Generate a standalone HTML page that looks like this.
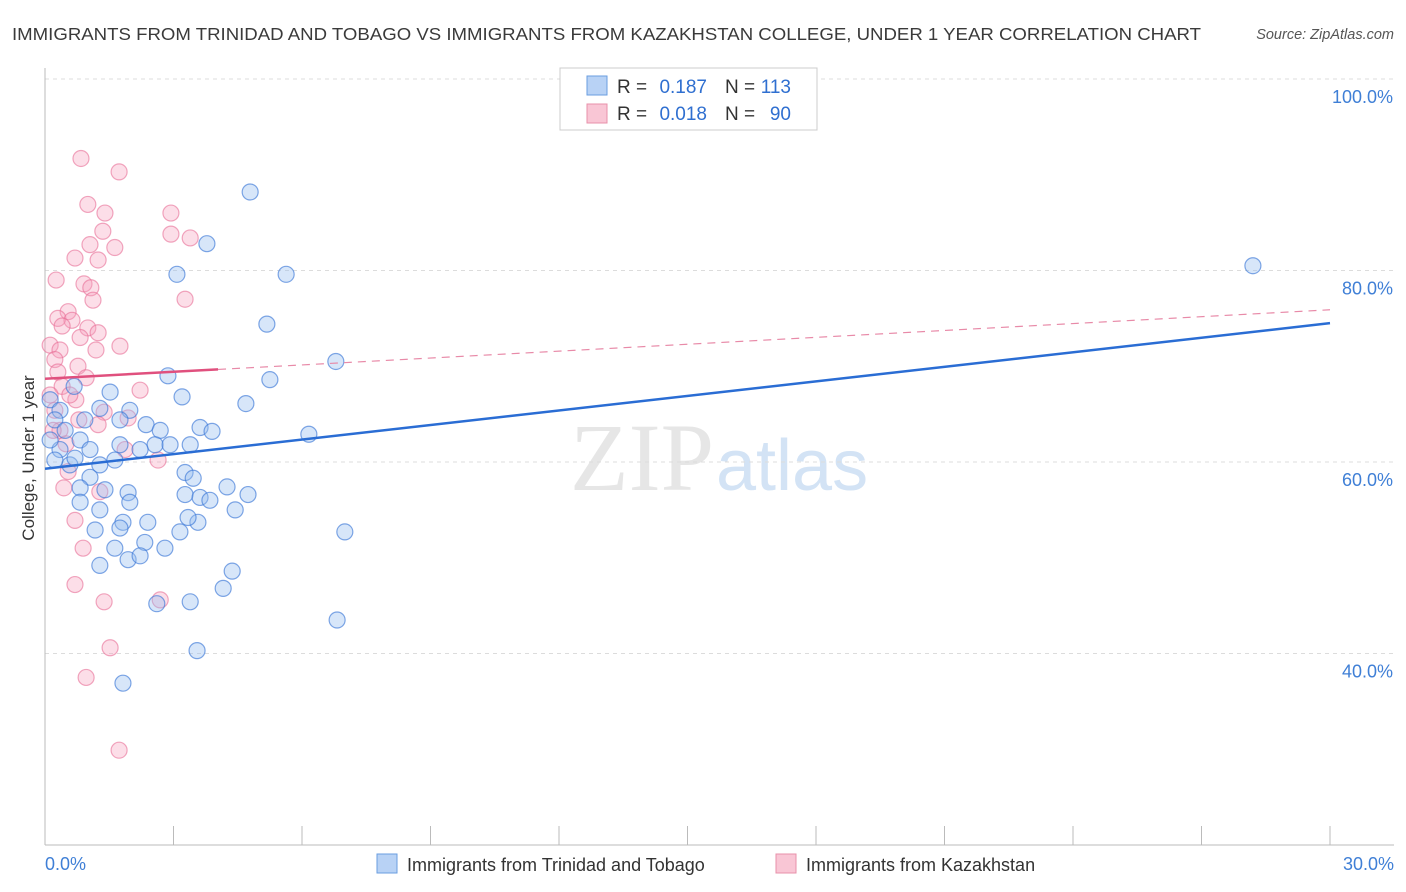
<!DOCTYPE html>
<html><head><meta charset="utf-8">
<style>
body{margin:0;background:#fff;font-family:"Liberation Sans",sans-serif;}
#wrap{position:relative;width:1406px;height:892px;overflow:hidden;}
</style></head>
<body>
<div id="wrap">
<svg id="svg" width="1406" height="892" xmlns="http://www.w3.org/2000/svg">
<text x="12" y="40" font-size="17.5" fill="#3a3a3a" textLength="1189" lengthAdjust="spacingAndGlyphs">IMMIGRANTS FROM TRINIDAD AND TOBAGO VS IMMIGRANTS FROM KAZAKHSTAN COLLEGE, UNDER 1 YEAR CORRELATION CHART</text>
<text x="1394" y="39" font-size="14.5" fill="#555" font-style="italic" text-anchor="end">Source: ZipAtlas.com</text>
<text x="714" y="490" font-size="96" fill="#e6e6e6" text-anchor="end" font-family="Liberation Serif, serif">ZIP</text>
<text x="716" y="490" font-size="72" fill="#d3e3f5">atlas</text>
<g id="grid"></g>
<g id="pts"></g>
<g id="trend"></g>
<text transform="translate(34,458) rotate(-90)" font-size="17" fill="#333" text-anchor="middle">College, Under 1 year</text>
<g>
<rect x="560" y="68" width="257" height="62" fill="#fff" stroke="#ccc"/>
<rect x="587" y="76" width="20" height="19" fill="#b8d2f5" stroke="#6a9ee0"/>
<rect x="587" y="104" width="20" height="19" fill="#f9c6d5" stroke="#e890aa"/>
<text x="617" y="93" font-size="19" fill="#333">R =</text>
<text x="707" y="93" font-size="19" fill="#2f6fd0" text-anchor="end">0.187</text>
<text x="725" y="93" font-size="19" fill="#333">N =</text>
<text x="791" y="93" font-size="19" fill="#2f6fd0" text-anchor="end">113</text>
<text x="617" y="120" font-size="19" fill="#333">R =</text>
<text x="707" y="120" font-size="19" fill="#2f6fd0" text-anchor="end">0.018</text>
<text x="725" y="120" font-size="19" fill="#333">N =</text>
<text x="791" y="120" font-size="19" fill="#2f6fd0" text-anchor="end">90</text>
</g>
<g>
<rect x="377" y="854" width="20" height="19" fill="#b8d2f5" stroke="#6a9ee0"/>
<text x="407" y="871" font-size="18" fill="#333">Immigrants from Trinidad and Tobago</text>
<rect x="776" y="854" width="20" height="19" fill="#f9c6d5" stroke="#e890aa"/>
<text x="806" y="871" font-size="18" fill="#333">Immigrants from Kazakhstan</text>
</g>
</svg>
</div>
<script>
const blueX=[4.79,3.78,3.08,5.63,28.2,5.18,6.79,5.25,2.87,3.20,4.69,1.52,0.68,0.12,0.35,1.28,1.98,1.75,2.36,2.69,3.62,3.90,6.16,2.57,2.92,3.39,0.82,1.05,0.35,0.58,1.28,1.63,3.27,3.46,1.05,0.82,4.25,4.74,1.94,3.27,3.62,3.85,1.40,0.82,1.98,1.28,4.44,2.40,1.82,3.57,3.34,1.17,1.75,3.15,7.00,1.63,2.33,2.80,1.94,2.22,1.28,4.37,4.16,2.61,3.39,6.82,3.55,1.82,0.23,0.12,0.47,0.93,1.75,2.22,0.70,0.23];
const blueY=[88.2,82.8,79.6,79.6,80.5,74.4,70.5,68.6,69.0,66.8,66.1,67.3,67.9,66.5,65.4,65.6,65.4,64.4,63.9,63.3,63.6,63.2,62.9,61.8,61.8,61.8,62.3,61.3,61.3,59.7,59.7,60.2,58.9,58.3,58.4,57.3,57.4,56.6,56.8,56.6,56.3,56.0,57.1,55.8,55.8,55.0,55.0,53.7,53.7,53.7,54.2,52.9,53.1,52.7,52.7,51.0,51.6,51.0,49.8,50.2,49.2,48.6,46.8,45.2,45.4,43.5,40.3,36.9,64.4,62.3,63.3,64.4,61.8,61.3,60.4,60.2];
const pinkX=[0.84,1.73,1.00,1.40,2.94,1.35,2.94,3.39,1.05,1.63,0.70,1.24,0.26,0.91,1.07,1.12,3.27,0.54,0.30,0.63,0.40,1.00,1.24,0.82,1.75,0.12,0.35,1.19,0.23,0.77,0.30,0.96,2.22,0.40,0.72,0.23,1.38,0.79,0.35,1.94,1.24,1.87,2.64,0.54,1.28,0.44,0.70,0.89,0.70,1.38,2.69,1.52,0.96,1.73,0.12,0.58,0.19,0.49];
const pinkY=[91.7,90.3,86.9,86.0,86.0,84.1,83.8,83.4,82.7,82.4,81.3,81.1,79.0,78.6,78.2,76.9,77.0,75.7,75.0,74.8,74.2,74.0,73.5,73.0,72.1,72.2,71.7,71.7,70.7,70.0,69.4,68.8,67.5,67.9,66.5,65.4,65.2,64.4,63.3,64.6,63.9,61.3,60.2,59.0,56.9,57.3,53.9,51.0,47.2,45.4,45.6,40.6,37.5,29.9,67.0,67.0,63.3,61.9];
const blueTrend=[59.3,74.5];
const pinkTrend=[68.7,75.9];
const pinkSolidEnd=4.04;
const yTicks=[100,80,60,40];
const xTicks=[0,3,6,9,12,15,18,21,24,27,30];
const sx=v=>45+v*(1285/30);
const sy=v=>79+(100-v)*9.575;
const NS="http://www.w3.org/2000/svg";
function mk(tag,attrs,parent){const e=document.createElementNS(NS,tag);for(const k in attrs)e.setAttribute(k,attrs[k]);parent.appendChild(e);return e;}
const grid=document.getElementById('grid');
yTicks.forEach(t=>{
  const l=mk('line',{x1:45,x2:1394,y1:sy(t),y2:sy(t),stroke:'#dcdcdc','stroke-dasharray':'4,4'},grid);
  
  
  const tx=mk('text',{x:1393,y:sy(t)+24,'font-size':18,fill:'#3f7fd6','text-anchor':'end'},grid);
  tx.textContent=t.toFixed(1)+'%';
  
  
});
const ax=mk('line',{x1:45,x2:45,y1:68,y2:845,stroke:'#bbb'},grid);


const bx=mk('line',{x1:45,x2:1394,y1:845,y2:845,stroke:'#bbb'},grid);


xTicks.forEach(t=>{
  const l=mk('line',{x1:sx(t),x2:sx(t),y1:826,y2:845,stroke:'#bbb'},grid);
  
  
});
[[0,45,'start'],[30,1394,'end']].forEach(([v,x,a])=>{
  const tx=mk('text',{x:x,y:870,'font-size':18,fill:'#3f7fd6','text-anchor':a},grid);
  tx.textContent=v.toFixed(1)+'%';
  
  
});
const pts=document.getElementById('pts');
pinkX.forEach((x,i)=>{
  const c=mk('circle',{cx:sx(x),cy:sy(pinkY[i]),r:8,fill:'rgba(246,160,188,0.35)',stroke:'rgba(232,110,150,0.6)','stroke-width':1.2},pts);
  
  
});
blueX.forEach((x,i)=>{
  const c=mk('circle',{cx:sx(x),cy:sy(blueY[i]),r:8,fill:'rgba(150,190,240,0.38)',stroke:'rgba(60,120,215,0.65)','stroke-width':1.2},pts);
  
  
});
const tr=document.getElementById('trend');
const pAt=x=>pinkTrend[0]+(pinkTrend[1]-pinkTrend[0])*x/30;
const d=mk('line',{x1:sx(pinkSolidEnd),y1:sy(pAt(pinkSolidEnd)),x2:sx(30),y2:sy(pinkTrend[1]),stroke:'#e88aa8','stroke-width':1.2,'stroke-dasharray':'8,6'},tr);


const s=mk('line',{x1:sx(0),y1:sy(pinkTrend[0]),x2:sx(pinkSolidEnd),y2:sy(pAt(pinkSolidEnd)),stroke:'#e0507e','stroke-width':2.5},tr);


const b=mk('line',{x1:sx(0),y1:sy(blueTrend[0]),x2:sx(30),y2:sy(blueTrend[1]),stroke:'#2a6dd4','stroke-width':2.5},tr);


</script>
</body></html>
